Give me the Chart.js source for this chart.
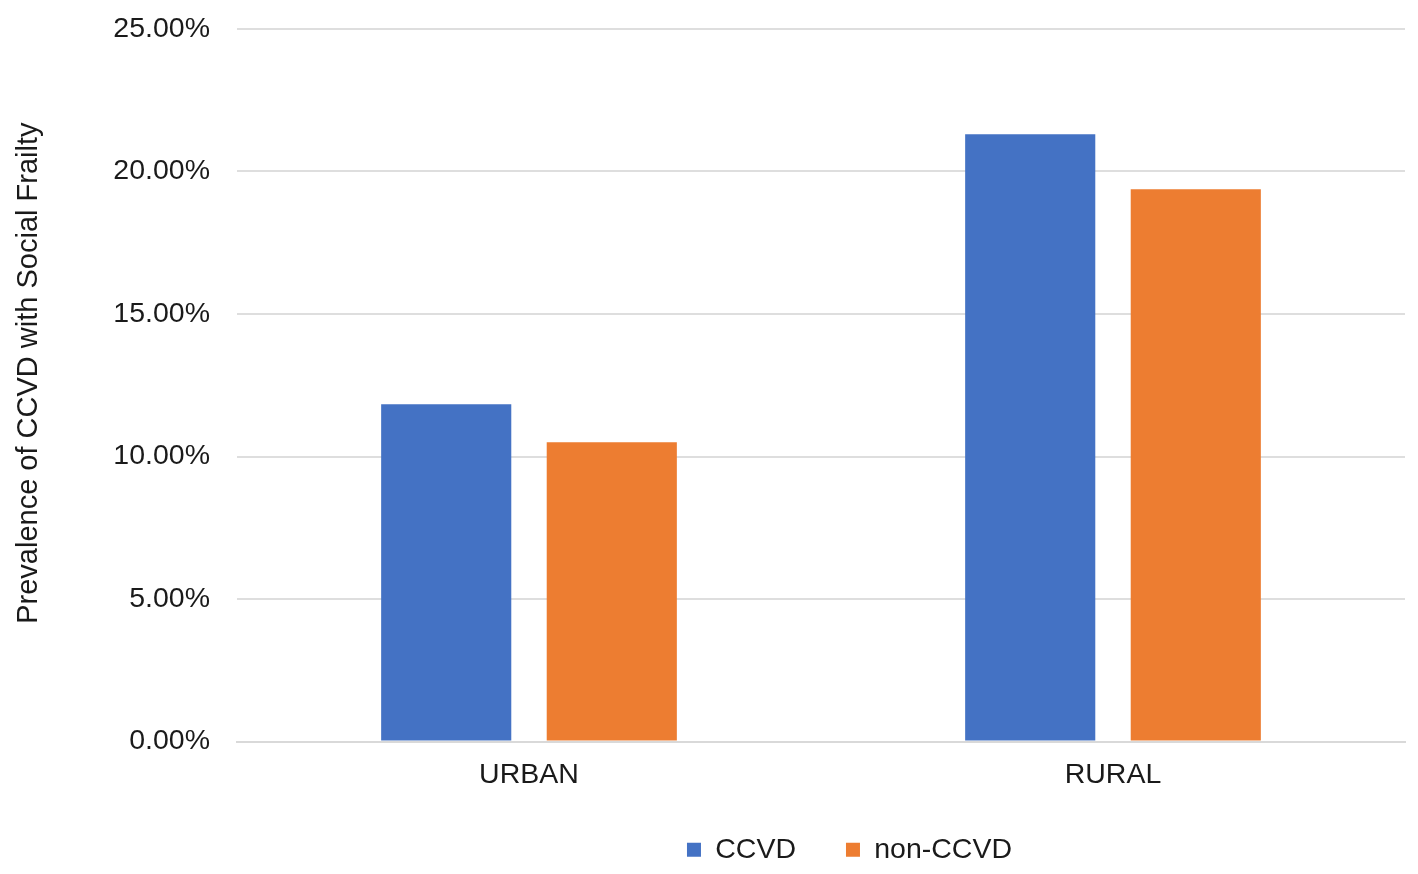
<!DOCTYPE html>
<html>
<head>
<meta charset="utf-8">
<script src="https://cdn.jsdelivr.net/npm/chart.js@4"></script>
<style>
html,body{margin:0;padding:0;background:#fff;}
#wrap{width:1418px;height:874px;position:relative;}
</style>
</head>
<body>
<div id="wrap"><canvas id="c" width="1418" height="874"></canvas></div>
<script>
const categories = ['URBAN', 'RURAL'];
const ccvd = [11.83, 21.31];
const nonCcvd = [10.50, 19.38];
const seriesNames = ['CCVD', 'non-CCVD'];
const yTitle = 'Prevalence of CCVD with Social Frailty';

const FONT = '"Liberation Sans", Arial, sans-serif';

const legendShift = {
  id: 'legendShift',
  afterLayout(chart) {
    const lg = chart.legend;
    if (lg) { lg.left += 147; lg.right += 147; }
  }
};

new Chart(document.getElementById('c'), {
  type: 'bar',
  data: {
    labels: categories,
    datasets: [
      { label: seriesNames[0], data: ccvd, backgroundColor: '#4472C4', categoryPercentage: 0.567, barPercentage: 0.786 },
      { label: seriesNames[1], data: nonCcvd, backgroundColor: '#ED7D31', categoryPercentage: 0.567, barPercentage: 0.786 }
    ]
  },
  plugins: [legendShift],
  options: {
    responsive: false,
    animation: false,
    devicePixelRatio: 1,
    layout: { padding: { top: 29, right: 13, left: 0, bottom: 0 } },
    plugins: {
      tooltip: { enabled: false },
      legend: {
        position: 'bottom',
        labels: {
          font: { family: FONT, size: 28.5 },
          color: '#1a1a1a',
          boxWidth: 14,
          boxHeight: 14,
          padding: 50
        }
      }
    },
    scales: {
      x: {
        grid: { display: false, drawTicks: false },
        border: { display: true, color: '#d9d9d9', width: 2 },
        ticks: { font: { family: FONT, size: 28.5 }, color: '#1a1a1a', padding: 17 },
        afterFit: s => { s.height = 44; }
      },
      y: {
        min: 0, max: 25,
        grid: { color: '#dedede', lineWidth: 2, drawTicks: false },
        border: { display: false },
        ticks: {
          stepSize: 5,
          font: { family: FONT, size: 28.5 },
          color: '#1a1a1a',
          padding: 27,
          callback: v => v.toFixed(2) + '%'
        },
        title: {
          display: true,
          text: '   ' + yTitle,
          font: { family: FONT, size: 29 },
          color: '#1a1a1a',
          padding: { top: 12, bottom: 4 }
        },
        afterFit: s => { s.width = 237; s.paddingTop = 0; s.paddingBottom = 0; }
      }
    }
  }
});
</script>
</body>
</html>
